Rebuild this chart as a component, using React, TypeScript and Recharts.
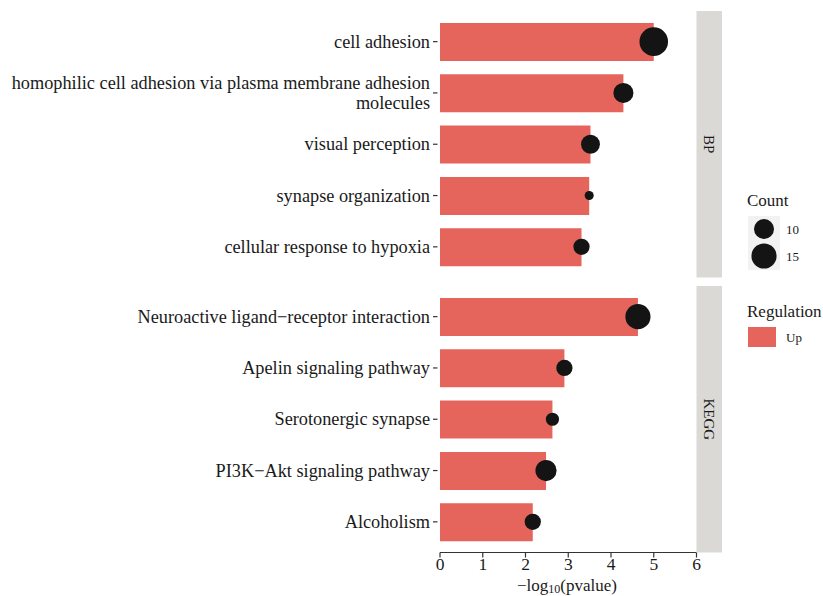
import React from "react";
import { ComposedChart, Bar, Scatter, XAxis, YAxis, ZAxis } from "recharts";

const FONT = "'Liberation Serif', 'Times New Roman', Times, serif";
const BAR_COLOR = "#E5645C";
const DOT_COLOR = "#141414";
const STRIP_COLOR = "#DBD9D6";

// ---- data ----
const bpTerms = [
  "cell adhesion",
  "homophilic cell adhesion via plasma membrane adhesion\nmolecules",
  "visual perception",
  "synapse organization",
  "cellular response to hypoxia",
];
const bpValues = [5.0, 4.29, 3.52, 3.49, 3.31];
const bpCounts = [19, 10, 9, 3, 7];

const keggTerms = [
  "Neuroactive ligand\u2212receptor interaction",
  "Apelin signaling pathway",
  "Serotonergic synapse",
  "PI3K\u2212Akt signaling pathway",
  "Alcoholism",
];
const keggValues = [4.63, 2.91, 2.63, 2.48, 2.17];
const keggCounts = [15, 7, 5, 11, 7];

const xTicks = [0, 1, 2, 3, 4, 5, 6];
const countLegend = [10, 15];
const sizeDomain = [3, 19];
const sizeRange = [64, 640];

const panels = ["BP", "KEGG"];

function toRows(terms: string[], values: number[], counts: number[]) {
  return terms.map((t, i) => ({ term: t, value: values[i], count: counts[i] }));
}

function areaFor(c: number) {
  return (
    sizeRange[0] +
    ((c - sizeDomain[0]) / (sizeDomain[1] - sizeDomain[0])) * (sizeRange[1] - sizeRange[0])
  );
}

const TermTick = (props: any) => {
  const { x, y, payload } = props;
  const lines = String(payload.value).split("\n");
  const lh = 20;
  const start = -((lines.length - 1) * lh) / 2;
  return (
    <g>
      <line x1={x - 7} x2={x - 2.5} y1={y} y2={y} stroke="#333" strokeWidth={1.2} />
      <text textAnchor="end" fontFamily={FONT} fontSize={18.3} fill="#1a1a1a">
        {lines.map((l, i) => (
          <tspan key={i} x={x - 10} y={y + start + i * lh} dy="0.33em">
            {l}
          </tspan>
        ))}
      </text>
    </g>
  );
};

const XTick = (props: any) => {
  const { x, y, payload } = props;
  return (
    <text x={x} y={y} dy="0.66em" textAnchor="middle" fontFamily={FONT} fontSize={17.5} fill="#1a1a1a">
      {payload.value}
    </text>
  );
};

function Panel({ rows, height, marginTop, showX }: any) {
  return (
    <ComposedChart
      width={823}
      height={height}
      data={rows}
      layout="vertical"
      margin={{ top: marginTop, right: 126.5, bottom: showX ? 0 : 12.5, left: 0 }}
    >
      <XAxis
        type="number"
        dataKey="value"
        domain={[0, 6]}
        ticks={xTicks}
        hide={!showX}
        height={43.5}
        axisLine={{ stroke: "#333", strokeWidth: 1.2 }}
        tickLine={{ stroke: "#333", strokeWidth: 1.2 }}
        tickSize={5}
        tickMargin={1}
        tick={<XTick />}
        allowDataOverflow
      />
      <YAxis
        type="category"
        dataKey="term"
        width={440}
        axisLine={false}
        tickLine={false}
        tickSize={0}
        tickMargin={0}
        padding={{ top: 5, bottom: 5 }}
        tick={<TermTick />}
        interval={0}
      />
      <ZAxis type="number" dataKey="count" domain={sizeDomain} range={sizeRange} />
      <Bar dataKey="value" fill={BAR_COLOR} barSize={38} isAnimationActive={false} />
      <Scatter dataKey="value" fill={DOT_COLOR} isAnimationActive={false} />
    </ComposedChart>
  );
}

export default function App() {
  const bpRows = toRows(bpTerms, bpValues, bpCounts);
  const keggRows = toRows(keggTerms, keggValues, keggCounts);
  const strips = [
    { label: panels[0], y0: 11, y1: 277.5 },
    { label: panels[1], y0: 286, y1: 552.5 },
  ];
  return (
    <div style={{ position: "absolute", left: 0, top: 0, width: 823, height: 596, background: "#fff" }}>
      <div style={{ position: "absolute", left: 0, top: 0 }}>
        <Panel rows={bpRows} height={290} marginTop={11} showX={false} />
      </div>
      <div style={{ position: "absolute", left: 0, top: 280 }}>
        <Panel rows={keggRows} height={316} marginTop={6} showX={true} />
      </div>
      <svg
        width={823}
        height={596}
        style={{ position: "absolute", left: 0, top: 0, pointerEvents: "none" }}
      >
        {strips.map((s) => (
          <g key={s.label}>
            <rect x={696.5} y={s.y0} width={25.5} height={s.y1 - s.y0} fill={STRIP_COLOR} />
            <text
              x={709}
              y={(s.y0 + s.y1) / 2}
              textAnchor="middle"
              dy="0.35em"
              fontFamily={FONT}
              fontSize={15}
              fill="#1a1a1a"
              transform={`rotate(90, 709, ${(s.y0 + s.y1) / 2})`}
            >
              {s.label}
            </text>
          </g>
        ))}
        <text x={567} y={590.5} textAnchor="middle" fontFamily={FONT} fontSize={17} fill="#1a1a1a">
          {"\u2212log"}
          <tspan fontSize={12} dy={2.5}>10</tspan>
          <tspan dy={-2.5}>(pvalue)</tspan>
        </text>
        {/* Count legend */}
        <text x={747} y={206} fontFamily={FONT} fontSize={17} fill="#1a1a1a">
          Count
        </text>
        <rect x={748} y={216} width={32} height={54} fill="#F2F2F2" />
        {countLegend.map((c, i) => {
          const cy = 229 + i * 27;
          const r = Math.sqrt(areaFor(c) / Math.PI);
          return (
            <g key={c}>
              <circle cx={764} cy={cy} r={r} fill={DOT_COLOR} />
              <text x={786} y={cy} dy="0.35em" fontFamily={FONT} fontSize={13} fill="#1a1a1a">
                {c}
              </text>
            </g>
          );
        })}
        {/* Regulation legend */}
        <text x={747} y={317} fontFamily={FONT} fontSize={17} fill="#1a1a1a">
          Regulation
        </text>
        <rect x={748} y={327} width={28} height={20} fill={BAR_COLOR} />
        <text x={786} y={337} dy="0.35em" fontFamily={FONT} fontSize={13} fill="#1a1a1a">
          Up
        </text>
      </svg>
    </div>
  );
}
